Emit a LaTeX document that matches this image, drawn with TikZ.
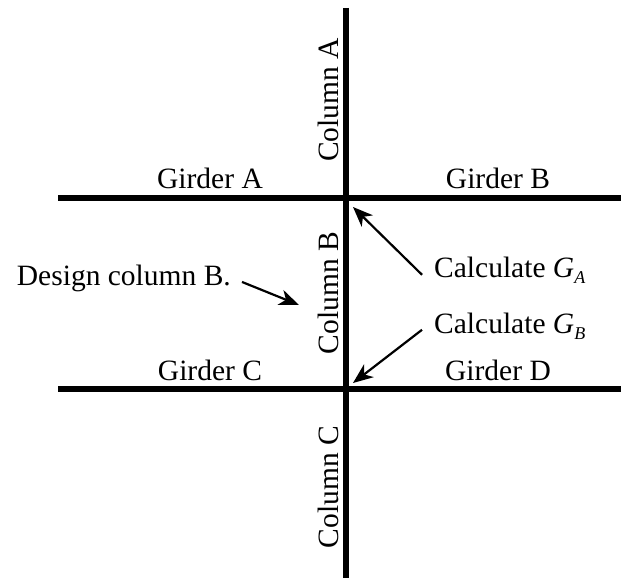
\documentclass[tikz,border=0pt]{standalone}
\usepackage{fontspec}
\setmainfont{Liberation Serif}
\usetikzlibrary{arrows.meta,positioning}

\newcommand{\subit}[1]{\raisebox{-6pt}{\fontsize{18}{18}\selectfont\textit{#1}}}

\begin{document}
\begin{tikzpicture}[
  x=1pt,y=-1pt,
  member/.style={line width=5.5pt},
  lbl/.style={font=\fontsize{29.5}{34}\selectfont,inner sep=0pt},
  arrow/.style={-{Stealth[length=20pt,width=16pt,inset=6pt]},line width=2.2pt}
]
\useasboundingbox (0,0) rectangle (621,580);
% frame: column line and two girder lines
\coordinate (colTop) at (346,8);
\coordinate (colBot) at (346,578);
\coordinate (girdUL) at (58,198);
\coordinate (girdUR) at (621,198);
\coordinate (girdLL) at (58,389);
\coordinate (girdLR) at (621,389);
\draw[member] (colTop) -- (colBot);
\draw[member] (girdUL) -- (girdUR);
\draw[member] (girdLL) -- (girdLR);
% member labels
\node[lbl,anchor=base] (gA) at (210,189) {Girder A};
\node[lbl,anchor=base] (gB) at (498,189) {Girder B};
\node[lbl,anchor=base] (gC) at (210,380) {Girder C};
\node[lbl,anchor=base] (gD) at (498,380) {Girder D};
\node[lbl,anchor=base,rotate=90] (cA) at (338,100) {Column A};
\node[lbl,anchor=base,rotate=90] (cB) at (338,293) {Column B};
\node[lbl,anchor=base,rotate=90] (cC) at (338,487) {Column C};
% notes
\node[lbl,anchor=base east] (design) at (231,285) {Design column B.};
\node[lbl,anchor=base west] (calcA) at (434,277) {Calculate \textit{G}\subit{A}};
\node[lbl,anchor=base west] (calcB) at (434,333) {Calculate \textit{G}\subit{B}};
\coordinate (tipDesign) at (299,305);
\coordinate (tipA) at (353,207);
\coordinate (tipB) at (353,383);
\draw[arrow] ([xshift=11pt,yshift=-4pt]design.east) -- (tipDesign);
\draw[arrow] ([xshift=-12pt,yshift=-5pt]calcA.west) -- (tipA);
\draw[arrow] ([xshift=-12pt,yshift=-4pt]calcB.west) -- (tipB);
\end{tikzpicture}
\end{document}
